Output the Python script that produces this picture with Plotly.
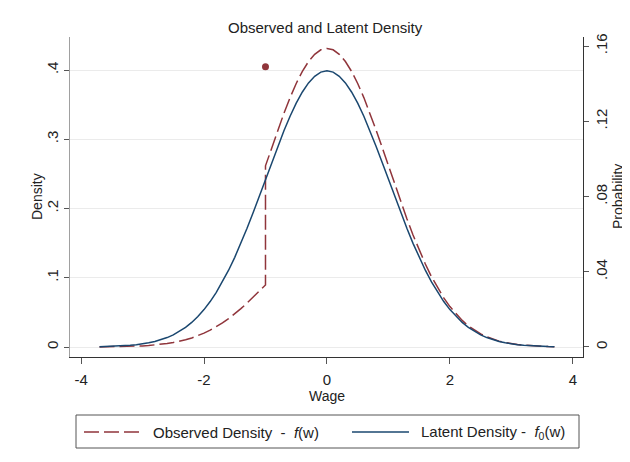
import plotly.graph_objects as go

# ---- data ----
wage_grid = [-3.7, -3.6, -3.5, -3.4, -3.3, -3.2, -3.1, -3.0, -2.9, -2.8, -2.7, -2.6, -2.5,
             -2.4, -2.3, -2.2, -2.1, -2.0, -1.9, -1.8, -1.7, -1.6, -1.5, -1.4, -1.3, -1.2,
             -1.1, -1.0, -0.9, -0.8, -0.7, -0.6, -0.5, -0.4, -0.3, -0.2, -0.1, 0.0, 0.1,
             0.2, 0.3, 0.4, 0.5, 0.6, 0.7, 0.8, 0.9, 1.0, 1.1, 1.2, 1.3, 1.4, 1.5, 1.6,
             1.7, 1.8, 1.9, 2.0, 2.1, 2.2, 2.3, 2.4, 2.5, 2.6, 2.7, 2.8, 2.9, 3.0, 3.1,
             3.2, 3.3, 3.4, 3.5, 3.6, 3.7]

latent_density = [0.0004, 0.0006, 0.0009, 0.0012, 0.0017, 0.0024, 0.0033, 0.0044, 0.0060,
                  0.0079, 0.0104, 0.0136, 0.0175, 0.0224, 0.0283, 0.0355, 0.0440, 0.0540,
                  0.0656, 0.0790, 0.0940, 0.1109, 0.1295, 0.1497, 0.1714, 0.1942, 0.2179,
                  0.2420, 0.2661, 0.2897, 0.3123, 0.3332, 0.3521, 0.3683, 0.3814, 0.3910,
                  0.3970, 0.3989, 0.3970, 0.3910, 0.3814, 0.3683, 0.3521, 0.3332, 0.3123,
                  0.2897, 0.2661, 0.2420, 0.2179, 0.1942, 0.1714, 0.1497, 0.1295, 0.1109,
                  0.0940, 0.0790, 0.0656, 0.0540, 0.0440, 0.0355, 0.0283, 0.0224, 0.0175,
                  0.0136, 0.0104, 0.0079, 0.0060, 0.0044, 0.0033, 0.0024, 0.0017, 0.0012,
                  0.0009, 0.0006, 0.0004]

obs_wage = [-3.7, -3.6, -3.5, -3.4, -3.3, -3.2, -3.1, -3.0, -2.9, -2.8, -2.7, -2.6, -2.5,
            -2.4, -2.3, -2.2, -2.1, -2.0, -1.9, -1.8, -1.7, -1.6, -1.5, -1.4, -1.3, -1.2,
            -1.1, -1.0,
            -1.0, -0.9, -0.8, -0.7, -0.6, -0.5, -0.4, -0.3, -0.2, -0.1, 0.0, 0.1,
            0.2, 0.3, 0.4, 0.5, 0.6, 0.7, 0.8, 0.9, 1.0, 1.1, 1.2, 1.3, 1.4, 1.5, 1.6,
            1.7, 1.8, 1.9, 2.0, 2.1, 2.2, 2.3, 2.4, 2.5, 2.6, 2.7, 2.8, 2.9, 3.0, 3.1,
            3.2, 3.3, 3.4, 3.5, 3.6, 3.7]

observed_density = [0.00015, 0.00022, 0.00032, 0.00045, 0.00064, 0.00088, 0.0012, 0.0016,
                    0.0022, 0.0029, 0.0038, 0.0050, 0.0065, 0.0083, 0.0105, 0.0131, 0.0163,
                    0.0200, 0.0243, 0.0292, 0.0348, 0.0410, 0.0479, 0.0554, 0.0634, 0.0719,
                    0.0806, 0.0895,
                    0.2616, 0.2877, 0.3132, 0.3376, 0.3602, 0.3806, 0.3981, 0.4123, 0.4227,
                    0.4292, 0.4312, 0.4292, 0.4227, 0.4123, 0.3981, 0.3806, 0.3602, 0.3376,
                    0.3132, 0.2877, 0.2616, 0.2355, 0.2099, 0.1853, 0.1618, 0.1400, 0.1199,
                    0.1016, 0.0854, 0.0709, 0.0584, 0.0476, 0.0384, 0.0306, 0.0242, 0.0189,
                    0.0147, 0.0112, 0.0085, 0.0065, 0.0048, 0.0036, 0.0026, 0.0018, 0.0013,
                    0.0010, 0.0006, 0.0004]

spike_wage = [-1.0]
spike_prob = [0.149]

x_ticks = [-4, -2, 0, 2, 4]
x_tick_labels = ["-4", "-2", "0", "2", "4"]
left_ticks = [0, 0.1, 0.2, 0.3, 0.4]
left_tick_labels = ["0", ".1", ".2", ".3", ".4"]
right_ticks = [0, 0.04, 0.08, 0.12, 0.16]
right_tick_labels = ["0", ".04", ".08", ".12", ".16"]

RED = "#90353b"
NAVY = "#1a476f"
FONT = "Liberation Sans, Arial, sans-serif"

fig = go.Figure()
fig.add_trace(go.Scatter(x=obs_wage, y=observed_density, mode="lines",
                         line=dict(color=RED, width=1.5, dash="15px,5px"),
                         showlegend=False, hoverinfo="skip"))
fig.add_trace(go.Scatter(x=wage_grid, y=latent_density, mode="lines",
                         line=dict(color=NAVY, width=1.5),
                         showlegend=False, hoverinfo="skip"))
fig.add_trace(go.Scatter(x=spike_wage, y=spike_prob, mode="markers", yaxis="y2",
                         marker=dict(color=RED, size=7),
                         showlegend=False, hoverinfo="skip"))

# the page body adds an 8px offset, so the figure is laid out 8px smaller/shifted
OFF = 8
W, H = 630 - OFF, 462 - OFF
L, R, T, B = 70 - OFF, 583 - OFF, 37 - OFF, 357 - OFF


def px(xp):
    return (xp - OFF - L) / (R - L)


def py(yp):
    return (B - (yp - OFF)) / (B - T)


shapes = [
    # legend box
    dict(type="rect", xref="paper", yref="paper", x0=px(76), x1=px(579), y0=py(448), y1=py(415),
         line=dict(color="#555555", width=1), fillcolor="white"),
    dict(type="line", xref="paper", yref="paper", x0=px(84), x1=px(143), y0=py(432), y1=py(432),
         line=dict(color=RED, width=1.5, dash="15px,5px")),
    dict(type="line", xref="paper", yref="paper", x0=px(352), x1=px(409), y0=py(432), y1=py(432),
         line=dict(color=NAVY, width=1.5)),
]

annotations = [
    dict(text="Observed and Latent Density", x=px(325), y=py(27), xref="paper", yref="paper",
         showarrow=False, font=dict(size=15, color="#222"), xanchor="center", yanchor="middle"),
    dict(text="Density", x=px(37), y=0.5, xref="paper", yref="paper", textangle=-90,
         showarrow=False, font=dict(size=14, color="#222"), xanchor="center", yanchor="middle"),
    dict(text="Probability", x=px(618), y=0.5, xref="paper", yref="paper", textangle=-90,
         showarrow=False, font=dict(size=14, color="#222"), xanchor="center", yanchor="middle"),
    dict(text="Wage", x=px(327), y=py(396), xref="paper", yref="paper",
         showarrow=False, font=dict(size=14, color="#222"), xanchor="center", yanchor="middle"),
    dict(text="Observed Density  -  <i>f</i>(w)", x=px(151), y=py(432), xref="paper", yref="paper",
         showarrow=False, font=dict(size=15, color="#222"), xanchor="left", yanchor="middle"),
    dict(text="Latent Density -  <i>f</i><sub>0</sub>(w)", x=px(419), y=py(432), xref="paper",
         yref="paper", showarrow=False, font=dict(size=15, color="#222"),
         xanchor="left", yanchor="middle"),
]

fig.update_layout(
    width=W, height=H,
    margin=dict(l=L, r=W - R, t=T, b=H - B, pad=0, autoexpand=False),
    paper_bgcolor="white", plot_bgcolor="white",
    font=dict(family=FONT, size=14, color="#222"),
    showlegend=False,
    shapes=shapes, annotations=annotations,
    xaxis=dict(range=[-4.18, 4.165], tickvals=x_ticks, ticktext=x_tick_labels, automargin=False,
               showgrid=False, zeroline=False, showline=True, linecolor="#333", linewidth=1,
               ticks="outside", ticklen=6, tickcolor="#555", tickfont=dict(size=15),
               ticklabelstandoff=3),
    yaxis=dict(range=[-0.01444, 0.4477], tickvals=left_ticks, ticktext=left_tick_labels,
               automargin=False,
               tickangle=-90, showgrid=True, gridcolor="#ebebeb", gridwidth=1, zeroline=False,
               showline=True, linecolor="#a0a0a0", linewidth=1,
               ticks="outside", ticklen=5, tickcolor="#555", tickfont=dict(size=15)),
    yaxis2=dict(range=[-0.00532, 0.1648], tickvals=right_ticks, ticktext=right_tick_labels,
                automargin=False,
                overlaying="y", side="right", tickangle=-90, showgrid=False, zeroline=False,
                showline=True, linecolor="#333", linewidth=1,
                ticks="outside", ticklen=5, tickcolor="#555", tickfont=dict(size=15)),
)

fig.write_html("out.html")
